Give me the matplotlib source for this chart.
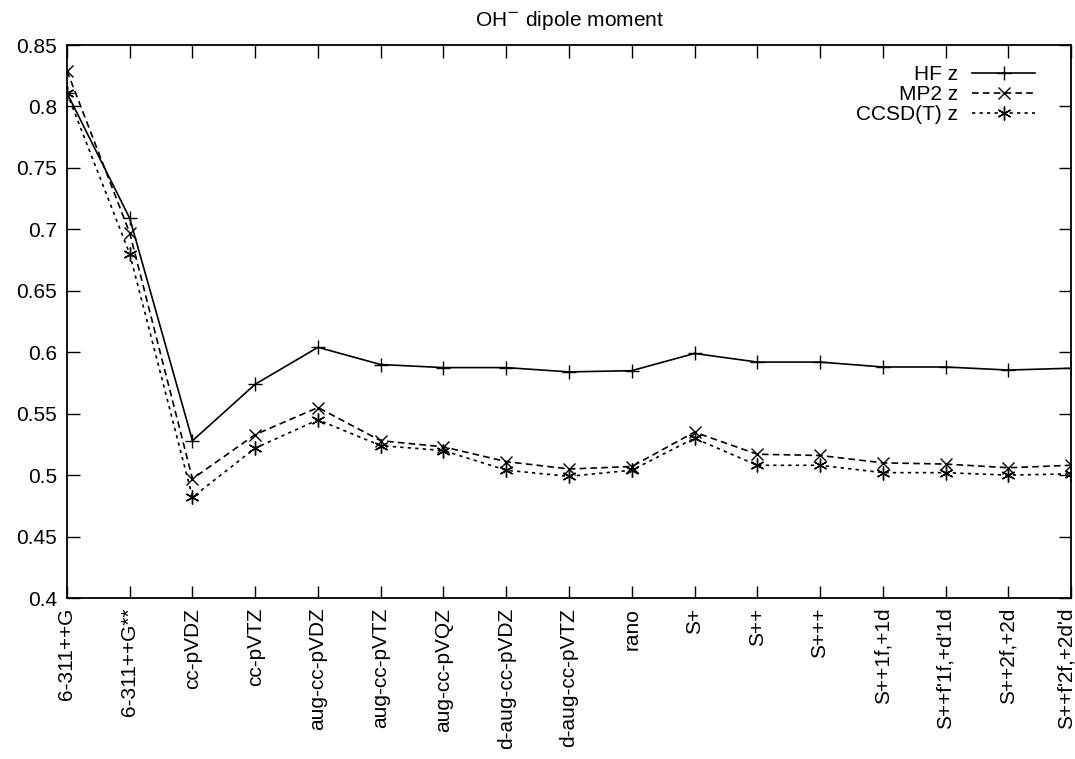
import matplotlib
matplotlib.use("Agg")
import matplotlib.pyplot as plt
import matplotlib.transforms as mtransforms
from matplotlib.ticker import FuncFormatter

plt.rcParams['font.family'] = ['Liberation Sans', 'DejaVu Sans']

# basis sets on the x axis
basis = ['6-311++G', '6-311++G**', 'cc-pVDZ', 'cc-pVTZ', 'aug-cc-pVDZ',
         'aug-cc-pVTZ', 'aug-cc-pVQZ', 'd-aug-cc-pVDZ', 'd-aug-cc-pVTZ',
         'rano', 'S+', 'S++', 'S+++', 'S++1f,+1d', "S++f'1f,+d'1d",
         'S++2f,+2d', "S++f'2f,+2d'd"]

hf_z = [0.811, 0.709, 0.528, 0.574, 0.604, 0.590, 0.5875, 0.5875, 0.584,
        0.585, 0.599, 0.592, 0.592, 0.588, 0.588, 0.5855, 0.587]
mp2_z = [0.829, 0.697, 0.497, 0.533, 0.555, 0.528, 0.523, 0.511, 0.505,
         0.507, 0.535, 0.517, 0.516, 0.510, 0.509, 0.506, 0.508]
ccsdt_z = [0.811, 0.680, 0.482, 0.522, 0.545, 0.524, 0.520, 0.504, 0.499,
           0.504, 0.530, 0.508, 0.508, 0.502, 0.502, 0.500, 0.501]

fig = plt.figure(figsize=(10.75, 7.59), dpi=100)
ax = fig.add_axes([0.0623, 0.2121, 0.934, 0.7286])

x = list(range(len(basis)))
ax.plot(x, hf_z, color='black', lw=1.2, ls='-', marker='+', ms=10, mew=1.0, label='HF z')
ax.plot(x, mp2_z, color='black', lw=1.2, ls=(0, (4, 2.5)), marker='x', ms=8, mew=1.0, label='MP2 z')
ax.plot(x, ccsdt_z, color='black', lw=1.2, ls=(0, (2, 2.5)), marker=(6, 2, 0), ms=10, mew=1.0, label='CCSD(T) z')

ax.set_xlim(0, len(basis) - 1)
ax.set_ylim(0.4, 0.85)
ax.set_xticks(x)
ax.set_xticklabels(basis, rotation=90, fontsize=15)
ax.set_yticks([0.4 + 0.05 * i for i in range(10)])
ax.yaxis.set_major_formatter(FuncFormatter(lambda v, p: '%g' % round(v, 2)))
ax.tick_params(axis='y', labelsize=15)
ax.tick_params(direction='in', length=9, width=1.0, top=True, right=True, pad=7)
for s in ax.spines.values():
    s.set_linewidth(1.3)

# last label sits at the right edge, nudge it in a little
last = ax.get_xticklabels()[-1]
last.set_transform(last.get_transform() + mtransforms.ScaledTranslation(-5 / 100, 0, fig.dpi_scale_trans))

ax.set_title('OH$^{-}$ dipole moment', fontsize=15, pad=14)

ax.legend(loc='upper right', frameon=False, markerfirst=False, fontsize=15,
          handlelength=3.0, handletextpad=0.7, labelspacing=0.05,
          borderpad=0, borderaxespad=0, bbox_to_anchor=(0.964, 0.964))

fig.savefig('out.png', dpi=100)
